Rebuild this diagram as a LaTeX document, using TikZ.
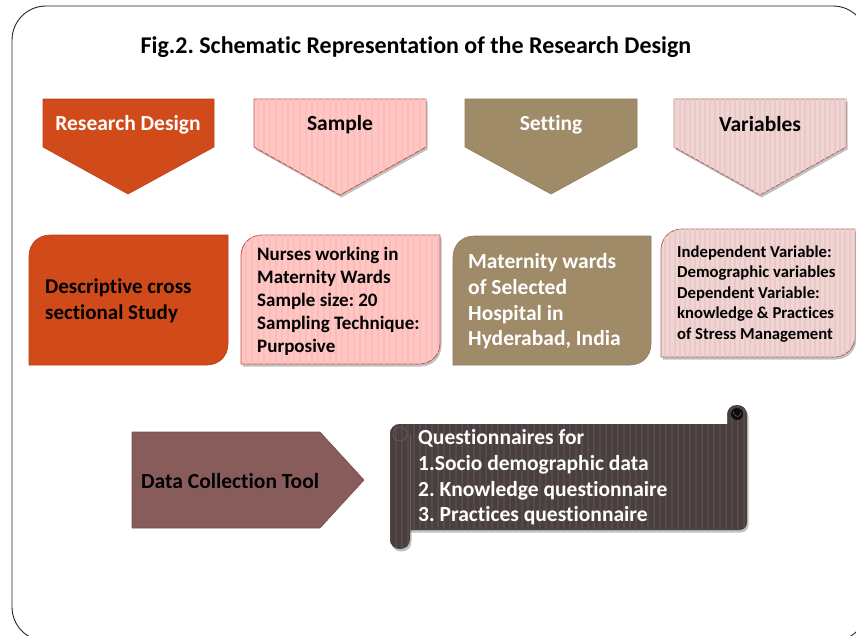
\documentclass[tikz,border=0pt]{standalone}
\usepackage{fontspec}
\setmainfont{Carlito}[Ligatures=NoCommon]
\frenchspacing
\usetikzlibrary{patterns.meta,shadows}

\definecolor{rdfill}{HTML}{D14A1A}
\definecolor{rdline}{HTML}{B8411A}
\definecolor{smfill}{HTML}{FFC6C3}
\definecolor{smline}{HTML}{B9574C}
\definecolor{smstripe}{HTML}{F9BDBA}
\definecolor{stfill}{HTML}{A08B69}
\definecolor{stline}{HTML}{8E7B5C}
\definecolor{vrfill}{HTML}{F0D5D3}
\definecolor{vrline}{HTML}{A8675F}
\definecolor{vrstripe}{HTML}{E8C9C7}
\definecolor{dcfill}{HTML}{885C5A}
\definecolor{dcline}{HTML}{76504E}
\definecolor{scfill}{HTML}{4A3F3F}
\definecolor{scstripe}{HTML}{554949}
\definecolor{scedge}{HTML}{6E6060}

\begin{document}
\begin{tikzpicture}[x=1pt,y=-1pt,
  every node/.style={inner sep=0pt},
  softshadow/.style={drop shadow={shadow xshift=1.5pt,shadow yshift=-2.5pt,opacity=0.35,fill=black!70}},
  rdshape/.style={fill=rdfill,draw=rdline,line width=0.6pt},
  smshape/.style={fill=smfill,draw=smline,line width=0.8pt,softshadow,
    postaction={pattern={Lines[angle=90,distance=6pt,line width=2pt]},pattern color=smstripe}},
  stshape/.style={fill=stfill,draw=stline,line width=0.6pt},
  vrshape/.style={fill=vrfill,draw=vrline,line width=0.8pt,softshadow,
    postaction={pattern={Lines[angle=90,distance=5pt,line width=1.8pt]},pattern color=vrstripe}},
  dcshape/.style={fill=dcfill,draw=dcline,line width=0.6pt},
  scshape/.style={fill=scfill,
    postaction={pattern={Lines[angle=90,distance=6pt,line width=2.2pt]},pattern color=scstripe}},
  headtxt/.style={font=\bfseries\fontsize{21.5}{25}\selectfont},
  titletxt/.style={font=\bfseries\fontsize{24}{28}\selectfont},
]
\useasboundingbox (0,0) rectangle (856,635);

% outer frame
\draw[line width=0.9pt,black!85,rounded corners=34] (12,6) rectangle (867,641);

% title
\node[titletxt] (title) at (416,47) {Fig.2. Schematic Representation of the Research Design};

% ---- row of downward heading arrows ----
\draw[rdshape] (43,99) -- (214,99) -- (214,147) -- (128,194) -- (43,147) -- cycle;
\node[headtxt,text=white] (hRD) at (128,125) {Research Design};

\draw[smshape] (254,99) -- (426,99) -- (426,147) -- (340,195) -- (254,147) -- cycle;
\node[headtxt] (hSM) at (340,125) {Sample};

\draw[stshape] (465,99) -- (637,99) -- (637,147) -- (551,194) -- (465,147) -- cycle;
\node[headtxt,text=white] (hST) at (551,125) {Setting};

\draw[vrshape] (674,99) -- (846,99) -- (846,147) -- (760,195) -- (674,147) -- cycle;
\node[headtxt] (hVR) at (760,124) {Variables};

% ---- row of detail boxes (rounded top-left and bottom-right corners) ----
\draw[rdshape] (29,365) -- (29,256) .. controls (29,244) and (38,235) .. (50,235)
  -- (228,235) -- (228,344) .. controls (228,356) and (219,365) .. (207,365) -- cycle;
\node[anchor=west,align=left,font=\bfseries\fontsize{21}{26}\selectfont] (bRD) at (45,301)
  {Descriptive cross\\sectional Study};

\draw[smshape] (241,364) -- (241,256) .. controls (241,244) and (250,235) .. (262,235)
  -- (440,235) -- (440,343) .. controls (440,355) and (431,364) .. (419,364) -- cycle;
\node[anchor=west,align=left,font=\bfseries\fontsize{19}{23}\selectfont] (bSM) at (257,301.5)
  {Nurses working in\\Maternity Wards\\Sample size: 20\\Sampling Technique:\\Purposive};

\draw[stshape] (453,365) -- (453,257) .. controls (453,245) and (462,236) .. (474,236)
  -- (651,236) -- (651,344) .. controls (651,356) and (642,365) .. (630,365) -- cycle;
\node[anchor=west,align=left,text=white,font=\bfseries\fontsize{21.5}{25.7}\selectfont] (bST) at (468,301.5)
  {Maternity wards\\of Selected\\Hospital in\\Hyderabad, India};

\draw[vrshape] (661,357) -- (661,250) .. controls (661,238) and (670,229) .. (682,229)
  -- (855,229) -- (855,336) .. controls (855,348) and (846,357) .. (834,357) -- cycle;
\node[anchor=west,align=left,font=\bfseries\fontsize{16.7}{20.5}\selectfont] (bVR) at (677,294)
  {Independent Variable:\\Demographic variables\\Dependent Variable:\\knowledge \& Practices\\of Stress Management};

% ---- data collection tool ----
\draw[dcshape] (132,432) -- (320,432) -- (364,480) -- (320,528) -- (132,528) -- cycle;
\node[anchor=west,font=\bfseries\fontsize{21.5}{25}\selectfont] (dct) at (141,481) {Data Collection Tool};

% scroll: sheet with a curl at the top right and a roll on the left
\fill[scshape,softshadow] (400,424) -- (727,424) -- (727,415)
  .. controls (727,409) and (731,405) .. (737,405)
  .. controls (743,405) and (747,409) .. (747,415)
  -- (747,522) .. controls (747,527) and (744,530) .. (739,530) -- (400,530) -- cycle;
\fill[black!80!scfill] (737,414) circle (6);
\draw[scedge,line width=0.5pt] (733,412) .. controls (735,418) and (741,418) .. (741,412);
\draw[scedge,line width=0.6pt] (727,424) -- (727,415);
\fill[scshape,softshadow] (390,434) .. controls (390,428) and (394,424) .. (400,424)
  .. controls (406,424) and (410,428) .. (410,434) -- (410,539)
  .. controls (410,545) and (406,549) .. (400,549)
  .. controls (394,549) and (390,545) .. (390,539) -- cycle;
\draw[scedge,line width=0.6pt] (400,434) circle (7);
\draw[scedge,line width=0.6pt] (410,434) -- (410,530);
\node[anchor=west,align=left,text=white,font=\bfseries\fontsize{21.5}{25.7}\selectfont] (scroll) at (418,477.5)
  {Questionnaires for\\1.Socio demographic data\\2. Knowledge questionnaire\\3. Practices questionnaire};
\end{tikzpicture}
\end{document}
